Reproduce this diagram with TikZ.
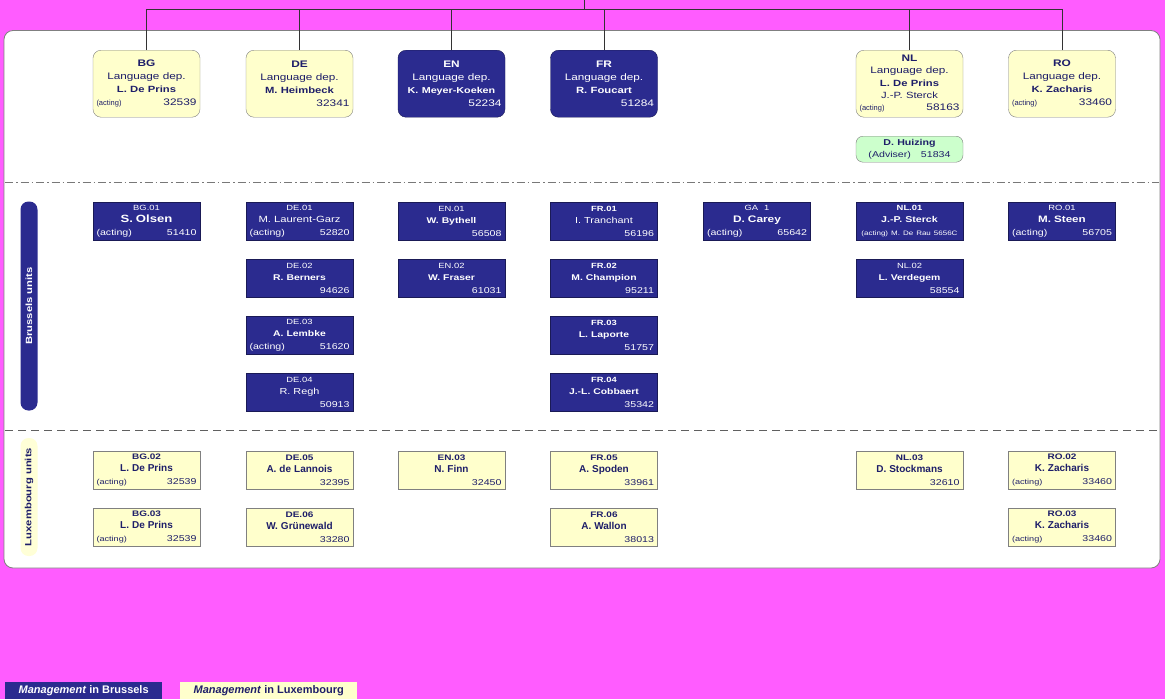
\documentclass[tikz,border=0pt]{standalone}
\usepackage{fontspec}
\setmainfont{Liberation Sans}
\newfontfamily\wide{Liberation Sans}[FakeStretch=1.25]
\definecolor{bgmag}{RGB}{255,92,255}
\definecolor{navy}{RGB}{43,43,143}
\definecolor{navytxt}{RGB}{30,30,105}
\definecolor{paleyel}{RGB}{255,255,204}
\definecolor{paleyel2}{RGB}{255,255,215}
\definecolor{palegrn}{RGB}{204,255,204}
\definecolor{sepgray}{RGB}{120,120,120}
\newcommand\sz[1]{\fontsize{#1}{12.5}\selectfont}
\newcommand\w[1]{\wide\fontsize{#1}{12.5}\selectfont}
\newcommand\fl{\hskip0pt plus1filll}
% brussels unit last lines
\newcommand\act[1]{{\w{8.5}(acting)}\fl{\w{8.5}#1}}
\newcommand\nr[1]{\mbox{}\fl{\w{8.5}#1}}
% luxembourg unit last lines
\newcommand\lact[1]{{\w{7.3}(acting)}\fl{\w{8.5}#1}}
% header last lines
\newcommand\hact[1]{{\sz{7.5}(acting)}\fl{\w{9.5}#1}}
\newcommand\hnr[1]{\mbox{}\fl{\w{9.5}#1}}
\tikzset{
  box/.style={anchor=north, minimum width=107pt, text width=100pt, align=center,
    inner xsep=3.5pt, inner ysep=1pt, font=\sz{9}},
  hdr/.style={box, rounded corners=8pt, minimum height=67pt, font=\fontsize{10}{13}\selectfont},
  hdrY/.style={hdr, fill=paleyel, draw=gray, text=navytxt},
  hdrN/.style={hdr, fill=navy, draw=navy!60!black, text=white},
  unit/.style={box, minimum height=37.5pt},
  unitN/.style={unit, fill=navy, draw=navy!60!black, text=white},
  unitY/.style={unit, fill=paleyel, draw=gray, text=navytxt},
  adv/.style={box, rounded corners=7pt, minimum height=26pt, fill=palegrn, draw=gray, text=navytxt},
  conn/.style={draw=black!80, line width=0.8pt},
  sidebar/.style={rounded corners=8pt, minimum height=17pt, inner sep=0pt, font=\bfseries\w{9}},
  legend/.style={anchor=north west, minimum height=17pt, inner sep=0pt, font=\bfseries\sz{11}}
}
\newcommand\unitbox[7]{\node[#4] (#1) at (#2,#3) {#5\\#6\\#7};}
\newcommand\bc[1]{{\w{7.5}#1}}      % brussels code
\newcommand\bcb[1]{{\bfseries\w{7.5}#1}}
\newcommand\bn[2][8.3]{{\bfseries\w{#1}#2}} % brussels name
\newcommand\lc[1]{{\bfseries\w{8}#1}}     % lux code
\newcommand\lnm[1]{{\bfseries\sz{10}#1}}   % lux name
\begin{document}
\begin{tikzpicture}[x=1pt,y=-1pt]
\useasboundingbox (0,0) rectangle (1165,699);
\fill[bgmag] (0,0) rectangle (1165,699);
% main panel
\draw[fill=white, draw=gray, rounded corners=9pt, line width=0.8pt] (4,30.5) rectangle (1160,568);
% separators
\draw[sepgray, line width=0.8pt, dash pattern=on 8pt off 3pt on 1.5pt off 3pt] (5,182) -- (1159,182);
\draw[sepgray!80!black, line width=0.9pt, dash pattern=on 8pt off 5pt] (5,430) -- (1159,430);

% header boxes
\node[hdrY] (BG) at (146.5,50) {{\bfseries\w{9.5}BG}\\{\w{9.4}Language dep.}\\{\bfseries\w{9}L. De Prins}\\\hact{32539}};
\node[hdrY] (DE) at (299.5,50) {{\bfseries\w{9.5}DE}\\{\w{9.4}Language dep.}\\{\bfseries\w{9}M. Heimbeck}\\\hnr{32341}};
\node[hdrN] (EN) at (451.5,50) {{\bfseries\w{9.5}EN}\\{\w{9.4}Language dep.}\\{\bfseries\w{8.6}K. Meyer-Koeken}\\\hnr{52234}};
\node[hdrN] (FR) at (604,50) {{\bfseries\w{9.5}FR}\\{\w{9.4}Language dep.}\\{\bfseries\w{9}R. Foucart}\\\hnr{51284}};
\node[hdrY, font=\fontsize{10}{12.3}\selectfont] (NL) at (909.5,50) {{\bfseries\w{9.5}NL}\\{\w{9.4}Language dep.}\\{\bfseries\w{9}L. De Prins}\\{\w{9}J.-P. Sterck}\\\hact{58163}};
\node[hdrY] (RO) at (1062,50) {{\bfseries\w{9.5}RO}\\{\w{9.4}Language dep.}\\{\bfseries\w{9}K. Zacharis}\\\hact{33460}};
\node[adv, font=\fontsize{10}{11.5}\selectfont] (HU) at (909.5,136) {{\bfseries\w{8.5}D. Huizing}\\{\w{8.5}(Adviser)\hspace{10pt}51834}};

% connectors
\coordinate (top) at (584,0);
\coordinate (bus) at (584,9);
\draw[conn] (top) -- (bus);
\foreach \n in {BG,DE,EN,FR,NL,RO} \draw[conn] (\n.north) |- (bus);

% side bars
\node[sidebar, fill=navy, text=white, minimum width=209pt, rotate=90] (BRU) at (29,306) {Brussels units};
\node[sidebar, fill=paleyel2, text=navytxt, minimum width=118pt, rotate=90] (LUX) at (29,497) {Luxembourg units};

% Brussels units
\unitbox{BG1}{146.5}{202}{unitN}{\bc{BG.01}}{\bn[10.5]{S. Olsen}}{\act{51410}}
\unitbox{DE1}{299.5}{202}{unitN}{\bc{DE.01}}{{\w{9}M. Laurent-Garz}}{\act{52820}}
\unitbox{DE2}{299.5}{259}{unitN}{\bc{DE.02}}{\bn{R. Berners}}{\nr{94626}}
\unitbox{DE3}{299.5}{316}{unitN}{\bc{DE.03}}{\bn{A. Lembke}}{\act{51620}}
\unitbox{DE4}{299.5}{373}{unitN}{\bc{DE.04}}{{\w{8.7}R. Regh}}{\nr{50913}}
\unitbox{EN1}{451.5}{202}{unitN}{\bc{EN.01}}{\bn{W. Bythell}}{\nr{56508}}
\unitbox{EN2}{451.5}{259}{unitN}{\bc{EN.02}}{\bn{W. Fraser}}{\nr{61031}}
\unitbox{FR1}{604}{202}{unitN}{\bcb{FR.01}}{{\w{8.7}I. Tranchant}}{\nr{56196}}
\unitbox{FR2}{604}{259}{unitN}{\bcb{FR.02}}{\bn{M. Champion}}{\nr{95211}}
\unitbox{FR3}{604}{316}{unitN}{\bcb{FR.03}}{\bn{L. Laporte}}{\nr{51757}}
\unitbox{FR4}{604}{373}{unitN}{\bcb{FR.04}}{\bn{J.-L. Cobbaert}}{\nr{35342}}
\unitbox{GA1}{757}{202}{unitN}{\bc{GA\hspace{6pt}1}}{\bn[9.5]{D. Carey}}{\act{65642}}
\unitbox{NL1}{909.5}{202}{unitN}{\bcb{NL.01}}{\bn[8.5]{J.-P. Sterck}}{\mbox{\w{6.4}(acting) M. De Rau 5656C}}
\unitbox{NL2}{909.5}{259}{unitN}{\bc{NL.02}}{\bn{L. Verdegem}}{\nr{58554}}
\unitbox{RO1}{1062}{202}{unitN}{\bc{RO.01}}{\bn[9.3]{M. Steen}}{\act{56705}}

% Luxembourg units
\unitbox{BG2}{146.5}{451}{unitY}{\lc{BG.02}}{\lnm{L. De Prins}}{\lact{32539}}
\unitbox{BG3}{146.5}{508}{unitY}{\lc{BG.03}}{\lnm{L. De Prins}}{\lact{32539}}
\unitbox{DE5}{299.5}{451}{unitY}{\lc{DE.05}}{\lnm{A. de Lannois}}{\nr{32395}}
\unitbox{DE6}{299.5}{508}{unitY}{\lc{DE.06}}{\lnm{W. Grünewald}}{\nr{33280}}
\unitbox{EN3}{451.5}{451}{unitY}{\lc{EN.03}}{\lnm{N. Finn}}{\nr{32450}}
\unitbox{FR5}{604}{451}{unitY}{\lc{FR.05}}{\lnm{A. Spoden}}{\nr{33961}}
\unitbox{FR6}{604}{508}{unitY}{\lc{FR.06}}{\lnm{A. Wallon}}{\nr{38013}}
\unitbox{NL3}{909.5}{451}{unitY}{\lc{NL.03}}{\lnm{D. Stockmans}}{\nr{32610}}
\unitbox{RO2}{1062}{451}{unitY}{\lc{RO.02}}{\lnm{K. Zacharis}}{\lact{33460}}
\unitbox{RO3}{1062}{508}{unitY}{\lc{RO.03}}{\lnm{K. Zacharis}}{\lact{33460}}

% legend
\node[legend, fill=navy, text=white, minimum width=157pt] (LB) at (5,682) {\textit{Management} in Brussels};
\node[legend, fill=paleyel, text=navytxt, minimum width=177pt] (LL) at (180,682) {\textit{Management} in Luxembourg};
\end{tikzpicture}
\end{document}
